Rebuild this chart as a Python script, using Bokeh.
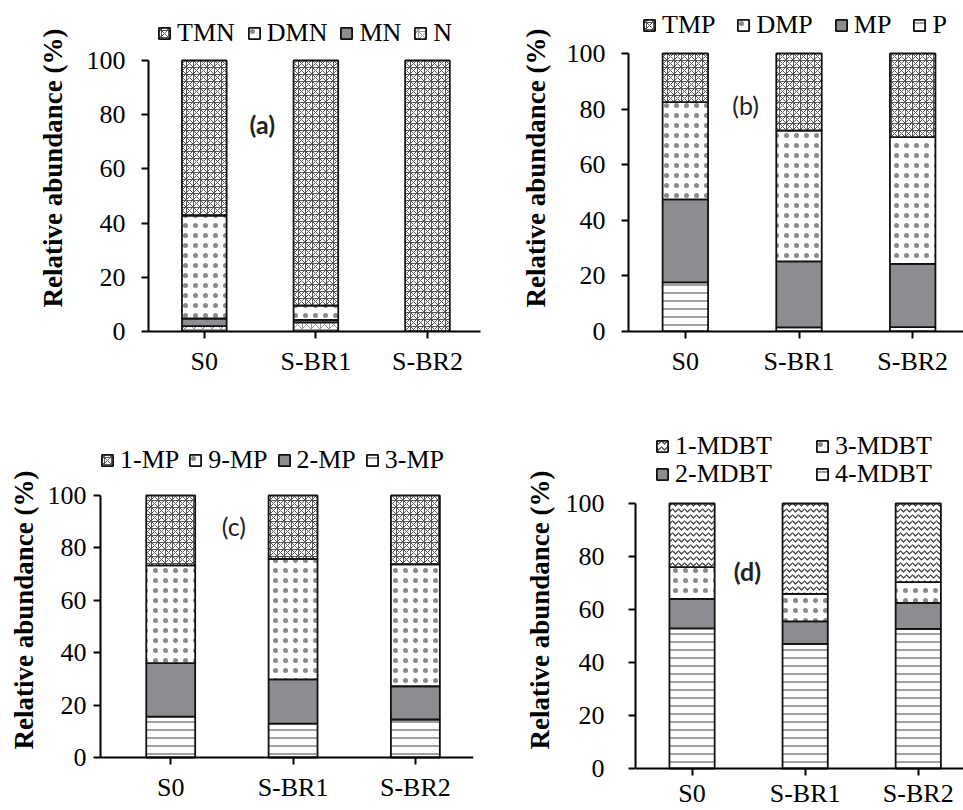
from bokeh.plotting import figure
from bokeh.models import (Range1d, FixedTicker, Legend, LegendItem, Label,
                          ColumnDataSource)
from bokeh.transform import stack
from bokeh.core.properties import value
from bokeh.layouts import column, row
from bokeh.embed import file_html
from bokeh.resources import INLINE

categories = ["S0", "S-BR1", "S-BR2"]
y_ticks = [0, 20, 40, 60, 80, 100]

# (a) naphthalenes, bottom -> top
a_names = ["N", "MN", "DMN", "TMN"]
a_N = [2.0, 3.4, 0.0]
a_MN = [2.8, 0.9, 0.0]
a_DMN = [38.0, 5.3, 0.0]
a_TMN = [57.2, 90.4, 100.0]

# (b) phenanthrenes, bottom -> top
b_names = ["P", "MP", "DMP", "TMP"]
b_P = [17.7, 1.5, 1.6]
b_MP = [29.8, 23.7, 22.7]
b_DMP = [35.0, 47.1, 45.6]
b_TMP = [17.5, 27.7, 30.1]

# (c) methylphenanthrenes, bottom -> top
c_names = ["3-MP", "2-MP", "9-MP", "1-MP"]
c_3MP = [15.6, 12.9, 14.5]
c_2MP = [20.4, 16.9, 12.7]
c_9MP = [37.3, 46.0, 46.5]
c_1MP = [26.7, 24.2, 26.3]

# (d) methyldibenzothiophenes, bottom -> top
d_names = ["4-MDBT", "2-MDBT", "3-MDBT", "1-MDBT"]
d_4MDBT = [52.9, 47.0, 52.7]
d_2MDBT = [11.1, 8.5, 9.8]
d_3MDBT = [12.0, 10.4, 7.8]
d_1MDBT = [24.0, 34.1, 29.7]

SERIF = "Liberation Serif"
FS = "26px"
TOP_PAD = 4

ZIG = dict(fill_color="white", hatch_pattern="criss_cross", hatch_color="#555555",
           hatch_scale=7, hatch_weight=1)
NZ = dict(fill_color="white", hatch_pattern="criss_cross", hatch_color="#9a9a9a",
          hatch_scale=9, hatch_weight=1)
DOTS = dict(fill_color="white", hatch_pattern="dot", hatch_color="#8a8a8a",
            hatch_scale=10, hatch_weight=1)
GREY = dict(fill_color="#8c8d91")
HLINE = dict(fill_color="white", hatch_pattern="horizontal_line", hatch_color="#808080",
             hatch_scale=8, hatch_weight=1.5)
WAVE = dict(fill_color="white", hatch_pattern="horizontal_wave", hatch_color="#333333",
            hatch_scale=6, hatch_weight=1.2)


def panel(names, cols, styles, width, height, borders, xr, legends, letter, standoffs,
          axis_inside=False):
    src = ColumnDataSource(dict(x=[i + 0.5 for i in range(len(categories))],
                                **{n: v for n, v in zip(names, cols)}))
    left, right, top100, bottom = borders
    x_so, y_so, lab_so = standoffs
    zero_px = height - bottom            # figure y of value 0
    ppu = (zero_px - top100) / 100.0
    y_end = (zero_px - TOP_PAD) / ppu
    if axis_inside:
        y_start = -(height - zero_px) / ppu
        mb_bottom = 0
    else:
        y_start = 0
        mb_bottom = bottom
    p = figure(width=width, height=height, output_backend="svg", toolbar_location=None,
               x_range=Range1d(*xr), y_range=Range1d(y_start, y_end),
               min_border_left=left, min_border_right=right,
               min_border_top=TOP_PAD, min_border_bottom=mb_bottom,
               outline_line_color=None, background_fill_color="white",
               border_fill_color="white")
    p.xgrid.visible = False
    p.ygrid.visible = False
    rend = {}
    for i, n in enumerate(names):
        r = p.vbar(x="x", width=0.4, bottom=stack(*names[:i]), top=stack(*names[:i + 1]),
                   source=src, line_color="#111111", line_width=1.8, **styles[n])
        rend[n] = r
    for ax in (p.xaxis[0], p.yaxis[0]):
        ax.axis_line_width = 2
        ax.axis_line_color = "black"
        ax.major_tick_line_width = 2
        ax.major_tick_out = 7
        ax.major_tick_in = 0
        ax.minor_tick_out = 0
        ax.minor_tick_in = 0
        ax.major_label_text_font = SERIF
        ax.major_label_text_font_size = FS
        ax.major_label_text_color = "black"
    xa = p.xaxis[0]
    xa.ticker = FixedTicker(ticks=[i + 0.5 for i in range(len(categories))])
    xa.major_label_overrides = {i + 0.5: c for i, c in enumerate(categories)}
    xa.major_label_standoff = x_so
    if axis_inside:
        xa.fixed_location = 0
    ya = p.yaxis[0]
    ya.bounds = (0, 100)
    ya.ticker = FixedTicker(ticks=y_ticks)
    ya.major_label_standoff = y_so
    ya.axis_label = "Relative abundance (%)"
    ya.axis_label_text_font = SERIF
    ya.axis_label_text_font_style = "bold"
    ya.axis_label_text_font_size = "27px"
    ya.axis_label_text_color = "black"
    ya.axis_label_standoff = lab_so
    for items, loc, spacing, label_width in legends:
        lg = Legend(items=[LegendItem(label=value(n), renderers=[rend[n]]) for n in items],
                    location=loc, orientation="horizontal", glyph_width=14, glyph_height=14,
                    label_standoff=6, spacing=spacing, padding=0, margin=0,
                    border_line_color=None, background_fill_alpha=0,
                    label_text_font=SERIF, label_text_font_size=FS, label_height=20,
                    label_width=label_width, label_text_color="black")
        p.add_layout(lg)
    txt, lx, ly, bold = letter
    p.add_layout(Label(x=lx, y=ly, text=txt, text_font="Lato", text_font_size="25px",
                       text_font_style="bold" if bold else "normal",
                       text_align="center", text_baseline="middle", text_color="#222222"))
    return p


pa = panel(a_names, [a_N, a_MN, a_DMN, a_TMN],
           {"N": NZ, "MN": GREY, "DMN": DOTS, "TMN": ZIG},
           481, 405, (148, 1, 60, 74), (0, 2.975),
           [(["TMN", "DMN", "MN", "N"], (9, 283), 12, 20)],
           ("(a)", 1.02, 76.7, True), (8, 16, 16))
pb = panel(b_names, [b_P, b_MP, b_DMP, b_TMP],
           {"P": HLINE, "MP": GREY, "DMP": DOTS, "TMP": ZIG},
           482, 405, (147, 0, 53, 74), (0, 2.947),
           [(["TMP", "DMP", "MP", "P"], (14, 291), 21, 20)],
           ("(b)", 1.03, 81.3, False), (8, 16, 13))
pc = panel(c_names, [c_3MP, c_2MP, c_9MP, c_1MP],
           {"3-MP": HLINE, "2-MP": GREY, "9-MP": DOTS, "1-MP": ZIG},
           480, 405, (100, 7, 90, 53), (-0.074, 2.975),
           [(["1-MP", "9-MP", "2-MP", "3-MP"], (0, 335), 9, 20)],
           ("(c)", 1.016, 88.5, False), (8, 7, 6), axis_inside=True)
pd_ = panel(d_names, [d_4MDBT, d_2MDBT, d_3MDBT, d_1MDBT],
            {"4-MDBT": HLINE, "2-MDBT": GREY, "3-MDBT": DOTS, "1-MDBT": WAVE},
            483, 405, (155, 0, 98, 42), (0, 2.9),
            [(["1-MDBT", "3-MDBT"], (20, 349), 0, 140),
             (["2-MDBT", "4-MDBT"], (20, 321), 0, 140)],
            ("(d)", 0.99, 74.7, True), (3, 24, 8), axis_inside=True)

layout = column(row(pa, pb), row(pc, pd_))
open("out.html", "w").write(file_html(layout, INLINE))
